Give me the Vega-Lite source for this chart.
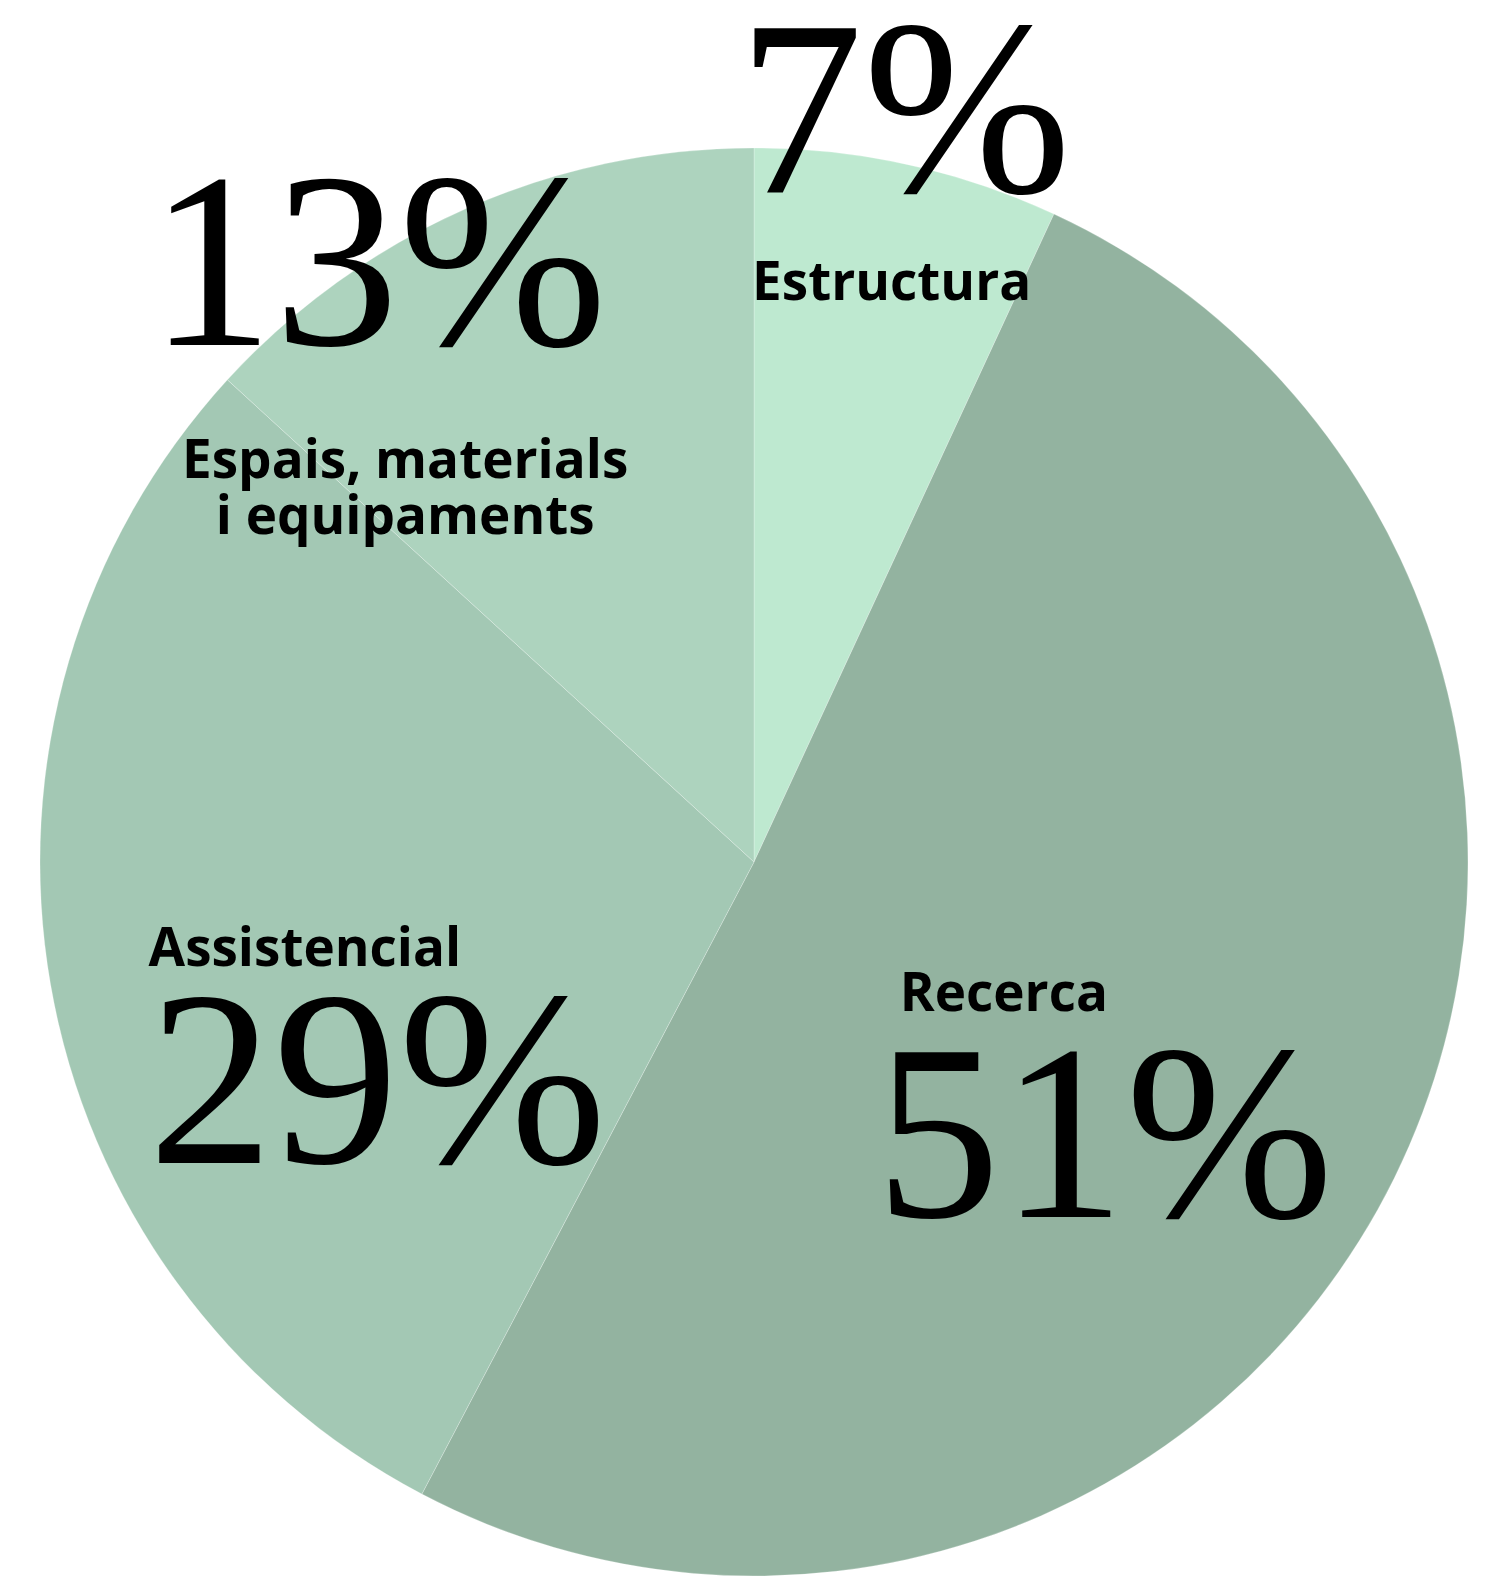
{
  "$schema": "https://vega.github.io/schema/vega-lite/v6.json",
  "autosize": {"type": "none"},
  "width": 1428,
  "height": 1428,
  "padding": {"left": 40, "top": 148, "right": 23, "bottom": 3},
  "background": "#ffffff",
  "config": {"view": {"stroke": null}},
  "data": {
    "values": [
      {"category": "Estructura", "name": "Estructura", "value": 6.9, "pct": "7%", "ord": 1},
      {"category": "Recerca", "name": "Recerca", "value": 50.8, "pct": "51%", "ord": 2},
      {"category": "Assistencial", "name": "Assistencial", "value": 29.1, "pct": "29%", "ord": 3},
      {"category": "Espais", "name": "Espais, materials\ni equipaments", "value": 13.2, "pct": "13%", "ord": 4}
    ]
  },
  "encoding": {
    "theta": {"field": "value", "type": "quantitative", "stack": true},
    "order": {"field": "ord", "type": "quantitative"}
  },
  "layer": [
    {
      "mark": {"type": "arc", "stroke": "#ffffff", "strokeWidth": 0.6, "strokeOpacity": 0.4},
      "encoding": {
        "color": {
          "field": "category",
          "type": "nominal",
          "scale": {
            "domain": ["Estructura", "Recerca", "Assistencial", "Espais"],
            "range": ["#BEE9D0", "#93B3A0", "#A3C8B4", "#ADD3BE"]
          },
          "legend": null
        }
      }
    },
    {
      "mark": {"type": "text", "radius": 686, "dx": 3, "dy": 0, "align": "center", "baseline": "alphabetic", "font": "Liberation Serif", "fontSize": 250, "color": "#000000"},
      "encoding": {"text": {"condition": {"test": "datum.category === 'Estructura'", "field": "pct"}, "value": ""}}
    },
    {
      "mark": {"type": "text", "radius": 575, "dx": 14, "dy": 0, "align": "center", "baseline": "alphabetic", "font": "Open Sans", "fontWeight": "bold", "fontSize": 53, "color": "#000000"},
      "encoding": {"text": {"condition": {"test": "datum.category === 'Estructura'", "field": "name"}, "value": ""}}
    },
    {
      "mark": {"type": "text", "radius": 282, "dx": -3, "dy": 24, "align": "center", "baseline": "alphabetic", "font": "Open Sans", "fontWeight": "bold", "fontSize": 53, "color": "#000000"},
      "encoding": {"text": {"condition": {"test": "datum.category === 'Recerca'", "field": "name"}, "value": ""}}
    },
    {
      "mark": {"type": "text", "radius": 461, "dx": -63, "dy": 151, "align": "center", "baseline": "alphabetic", "font": "Liberation Serif", "fontSize": 250, "color": "#000000"},
      "encoding": {"text": {"condition": {"test": "datum.category === 'Recerca'", "field": "pct"}, "value": ""}}
    },
    {
      "mark": {"type": "text", "radius": 462, "dx": 6, "dy": 25, "align": "center", "baseline": "alphabetic", "font": "Open Sans", "fontWeight": "bold", "fontSize": 53, "color": "#000000"},
      "encoding": {"text": {"condition": {"test": "datum.category === 'Assistencial'", "field": "name"}, "value": ""}}
    },
    {
      "mark": {"type": "text", "radius": 425, "dx": 42, "dy": 228, "align": "center", "baseline": "alphabetic", "font": "Liberation Serif", "fontSize": 250, "color": "#000000"},
      "encoding": {"text": {"condition": {"test": "datum.category === 'Assistencial'", "field": "pct"}, "value": ""}}
    },
    {
      "mark": {"type": "text", "radius": 626, "dx": -124, "dy": 56, "align": "center", "baseline": "alphabetic", "font": "Liberation Serif", "fontSize": 250, "color": "#000000"},
      "encoding": {"text": {"condition": {"test": "datum.category === 'Espais'", "field": "pct"}, "value": ""}}
    },
    {
      "mark": {"type": "text", "radius": 496, "dx": -149, "dy": 70, "align": "center", "baseline": "alphabetic", "lineBreak": "\n", "lineHeight": 56, "font": "Open Sans", "fontWeight": "bold", "fontSize": 53, "color": "#000000"},
      "encoding": {"text": {"condition": {"test": "datum.category === 'Espais'", "field": "name"}, "value": ""}}
    }
  ]
}
